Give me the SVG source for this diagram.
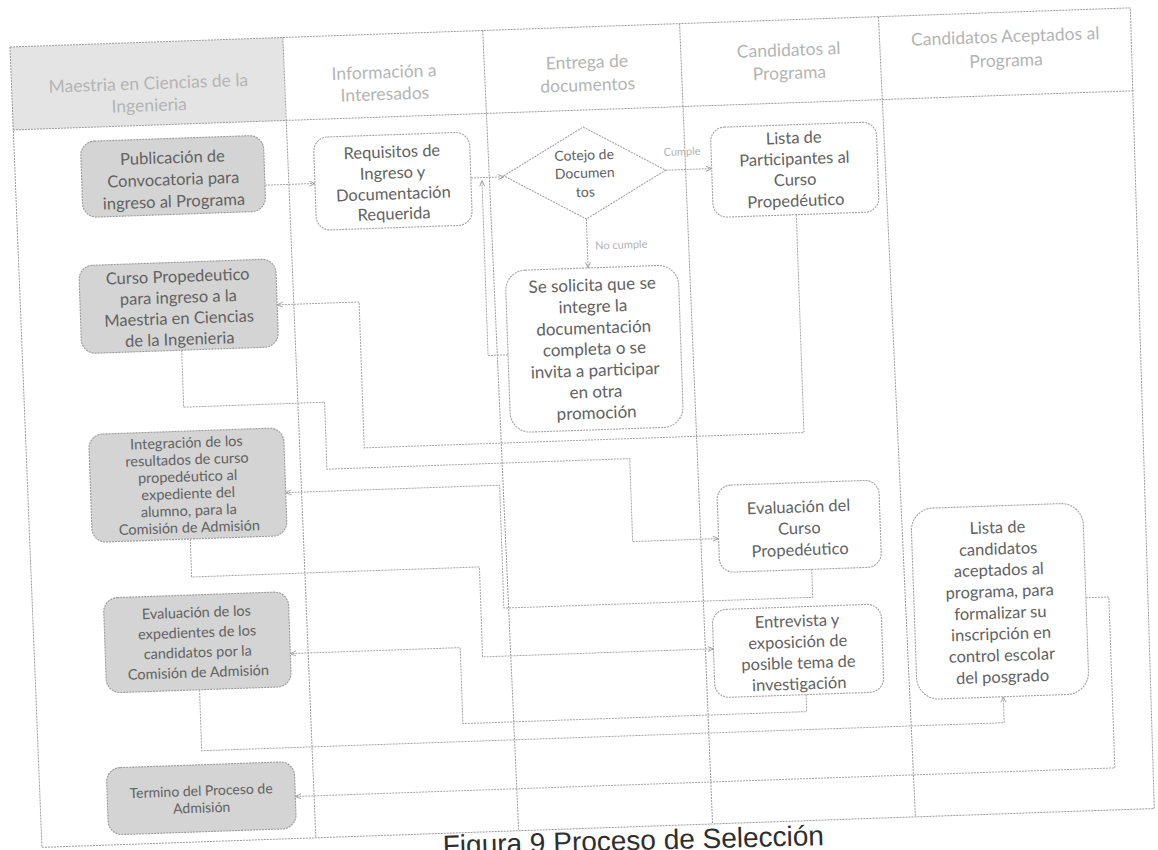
<svg xmlns="http://www.w3.org/2000/svg" width="1158" height="850" viewBox="0 0 1158 850">
  <style>
    .grid{fill:none;stroke:#9c9c9c;stroke-width:1;stroke-dasharray:2 1}
    .hdr{font-family:Lato,"Liberation Sans",sans-serif;font-size:17.5px;fill:#b4b4b4;text-anchor:middle}
    .box{fill:#ffffff;stroke:#a3a3a3;stroke-width:1.1;stroke-dasharray:2 1}
    .gbox{fill:#d4d4d4;stroke:#9a9a9a;stroke-width:1.1;stroke-dasharray:2 1}
    .t{font-family:Lato,"Liberation Sans",sans-serif;font-size:16.5px;fill:#626262;text-anchor:middle}
    .ts{font-size:14.5px}
    .tl{font-size:17px}
    .td{font-size:14px}
    .c{fill:none;stroke:#a6a6a6;stroke-width:1;stroke-dasharray:2 1;marker-end:url(#ah)}
    .lbl{font-family:Lato,"Liberation Sans",sans-serif;font-size:11px;fill:#b2b2b2;text-anchor:middle}
    .cap{font-family:"Liberation Sans",Arial,sans-serif;font-size:28px;fill:#2e2e2e}
  </style>
  <defs>
    <marker id="ah" viewBox="0 0 10 10" refX="9" refY="5" markerWidth="7" markerHeight="7" orient="auto" markerUnits="userSpaceOnUse">
      <path d="M1,1.5 L9,5 L1,8.5" fill="none" stroke="#999" stroke-width="1.3"/>
    </marker>
  </defs>
  <rect width="1158" height="850" fill="#fff"/>

  <!-- the whole swimlane sheet sits slightly tilted on the page -->
  <g transform="rotate(-2 10 47)">
    <g id="lanes">
      <rect x="10" y="47" width="273" height="83" fill="#e4e4e4"/>
      <path class="grid" d="M10,47 L1131,47 L1127,848 L14,848 Z"/>
      <path class="grid" d="M10,130 L1131,130"/>
      <path class="grid" d="M283,47 L288,848"/>
      <path class="grid" d="M483,47 L491,848"/>
      <path class="grid" d="M680,47 L685,848"/>
      <path class="grid" d="M879,47 L888,848"/>
      <text class="hdr" x="147" y="88" dy=".35em">Maestria en Ciencias de la</text>
      <text class="hdr" x="147" y="110" dy=".35em">Ingenieria</text>
      <text class="hdr" x="383" y="85" dy=".35em">Información a</text>
      <text class="hdr" x="383" y="107" dy=".35em">Interesados</text>
      <text class="hdr" x="586" y="82" dy=".35em">Entrega de</text>
      <text class="hdr" x="586" y="105" dy=".35em">documentos</text>
      <text class="hdr" x="788" y="77" dy=".35em">Candidatos al</text>
      <text class="hdr" x="788" y="100" dy=".35em">Programa</text>
      <text class="hdr" x="1005" y="71" dy=".35em">Candidatos Aceptados al</text>
      <text class="hdr" x="1005" y="95" dy=".35em">Programa</text>
    </g>

    <g id="connectors">
      <path class="c" d="M260,194 L310,194"/>
      <path class="c" d="M466,194 L499,194"/>
      <path class="c" d="M661,193 L707,193"/>
      <path class="c" d="M580,239 L580,288"/>
      <path class="c" d="M497,372 L477,372 L477,197"/>
      <path class="c" d="M790,242 L790,460 L350,460 L350,314 L268,314"/>
      <path class="c" d="M171,356 L171,413 L312,413 L312,480 L615,480 L615,563 L701,563"/>
      <path class="c" d="M793,597 L793,625 L484,625 L484,502 L270,502"/>
      <path class="c" d="M173,545 L173,583 L461,583 L461,673 L692,673"/>
      <path class="c" d="M783,722 L783,739 L439,739 L439,663 L269,663"/>
      <path class="c" d="M177,696 L177,757 L980,757 L980,731"/>
      <path class="c" d="M1066,635 L1089,635 L1089,806 L269,806"/>
      <text class="lbl" x="678" y="175" dy=".35em">Cumple</text>
      <text class="lbl" x="614" y="266" dy=".35em">No cumple</text>
    </g>

    <g id="publicacion">
      <rect class="gbox" x="77" y="144" width="183" height="76" rx="14"/>
      <text class="t" x="168.5" y="163" dy=".35em">Publicación de</text>
      <text class="t" x="168.5" y="185" dy=".35em">Convocatoria para</text>
      <text class="t" x="168.5" y="207" dy=".35em">ingreso al Programa</text>
    </g>
    <g id="requisitos">
      <rect class="box" x="310" y="148" width="156" height="93" rx="14"/>
      <text class="t" x="388" y="165" dy=".35em">Requisitos de</text>
      <text class="t" x="388" y="186" dy=".35em">Ingreso y</text>
      <text class="t" x="388" y="207" dy=".35em">Documentación</text>
      <text class="t" x="388" y="227" dy=".35em">Requerida</text>
    </g>
    <g id="cotejo">
      <path class="box" d="M499,193 L580,147 L661,193 L580,239 Z"/>
      <text class="t td" x="580" y="175" dy=".35em">Cotejo de</text>
      <text class="t td" x="580" y="193" dy=".35em">Documen</text>
      <text class="t td" x="580" y="212" dy=".35em">tos</text>
    </g>
    <g id="participantes">
      <rect class="box" x="707" y="152" width="166" height="90" rx="14"/>
      <text class="t" x="790" y="165" dy=".35em">Lista de</text>
      <text class="t" x="790" y="186" dy=".35em">Participantes al</text>
      <text class="t" x="790" y="207" dy=".35em">Curso</text>
      <text class="t" x="790" y="228" dy=".35em">Propedéutico</text>
    </g>
    <g id="solicitud">
      <rect class="box" x="497" y="288" width="173" height="162" rx="20"/>
      <text class="t tl" x="583.5" y="305" dy=".35em">Se solicita que se</text>
      <text class="t tl" x="583.5" y="326.5" dy=".35em">integre la</text>
      <text class="t tl" x="583.5" y="348" dy=".35em">documentación</text>
      <text class="t tl" x="583.5" y="369" dy=".35em">completa o se</text>
      <text class="t tl" x="583.5" y="390.5" dy=".35em">invita a participar</text>
      <text class="t tl" x="583.5" y="412" dy=".35em">en otra</text>
      <text class="t tl" x="583.5" y="433" dy=".35em">promoción</text>
    </g>
    <g id="curso">
      <rect class="gbox" x="71" y="268" width="197" height="88" rx="14"/>
      <text class="t" x="169.5" y="282" dy=".35em">Curso Propedeutico</text>
      <text class="t" x="169.5" y="303" dy=".35em">para ingreso a la</text>
      <text class="t" x="169.5" y="324" dy=".35em">Maestria en Ciencias</text>
      <text class="t" x="169.5" y="345" dy=".35em">de la Ingenieria</text>
    </g>
    <g id="integracion">
      <rect class="gbox" x="75" y="437" width="195" height="108" rx="14"/>
      <text class="t ts" x="172.5" y="448.5" dy=".35em">Integración de los</text>
      <text class="t ts" x="172.5" y="465.5" dy=".35em">resultados de curso</text>
      <text class="t ts" x="172.5" y="482.5" dy=".35em">propedéutico al</text>
      <text class="t ts" x="172.5" y="499.5" dy=".35em">expediente del</text>
      <text class="t ts" x="172.5" y="516.5" dy=".35em">alumno, para la</text>
      <text class="t ts" x="172.5" y="533.5" dy=".35em">Comisión de Admisión</text>
    </g>
    <g id="evaluacion-expedientes">
      <rect class="gbox" x="84" y="601" width="185" height="95" rx="14"/>
      <text class="t ts" x="176.5" y="618.5" dy=".35em">Evaluación de los</text>
      <text class="t ts" x="176.5" y="638.5" dy=".35em">expedientes de los</text>
      <text class="t ts" x="176.5" y="658.5" dy=".35em">candidatos por la</text>
      <text class="t ts" x="176.5" y="678.5" dy=".35em">Comisión  de Admisión</text>
    </g>
    <g id="termino">
      <rect class="gbox" x="81" y="771" width="188" height="67" rx="14"/>
      <text class="t td" x="175" y="797" dy=".35em">Termino del Proceso de</text>
      <text class="t td" x="175" y="814" dy=".35em">Admisión</text>
    </g>
    <g id="evaluacion-curso">
      <rect class="box" x="701" y="510" width="162" height="87" rx="14"/>
      <text class="t" x="782" y="534" dy=".35em">Evaluación del</text>
      <text class="t" x="782" y="555.5" dy=".35em">Curso</text>
      <text class="t" x="782" y="577" dy=".35em">Propedéutico</text>
    </g>
    <g id="entrevista">
      <rect class="box" x="692" y="634" width="169" height="88" rx="14"/>
      <text class="t" x="776.5" y="648" dy=".35em">Entrevista y</text>
      <text class="t" x="776.5" y="669" dy=".35em">exposición de</text>
      <text class="t" x="776.5" y="690" dy=".35em">posible tema de</text>
      <text class="t" x="776.5" y="711" dy=".35em">investigación</text>
    </g>
    <g id="aceptados">
      <rect class="box" x="894" y="540" width="172" height="191" rx="22"/>
      <text class="t" x="980" y="561.5" dy=".35em">Lista de</text>
      <text class="t" x="980" y="583" dy=".35em">candidatos</text>
      <text class="t" x="980" y="604" dy=".35em">aceptados al</text>
      <text class="t" x="980" y="625.5" dy=".35em">programa, para</text>
      <text class="t" x="980" y="647" dy=".35em">formalizar su</text>
      <text class="t" x="980" y="668" dy=".35em">inscripción en</text>
      <text class="t" x="980" y="689.5" dy=".35em">control escolar</text>
      <text class="t" x="980" y="711" dy=".35em">del posgrado</text>
    </g>
  </g>

  <text class="cap" x="443" y="855" transform="rotate(-1.5 443 855)">Figura 9 Proceso de Selección</text>
</svg>
